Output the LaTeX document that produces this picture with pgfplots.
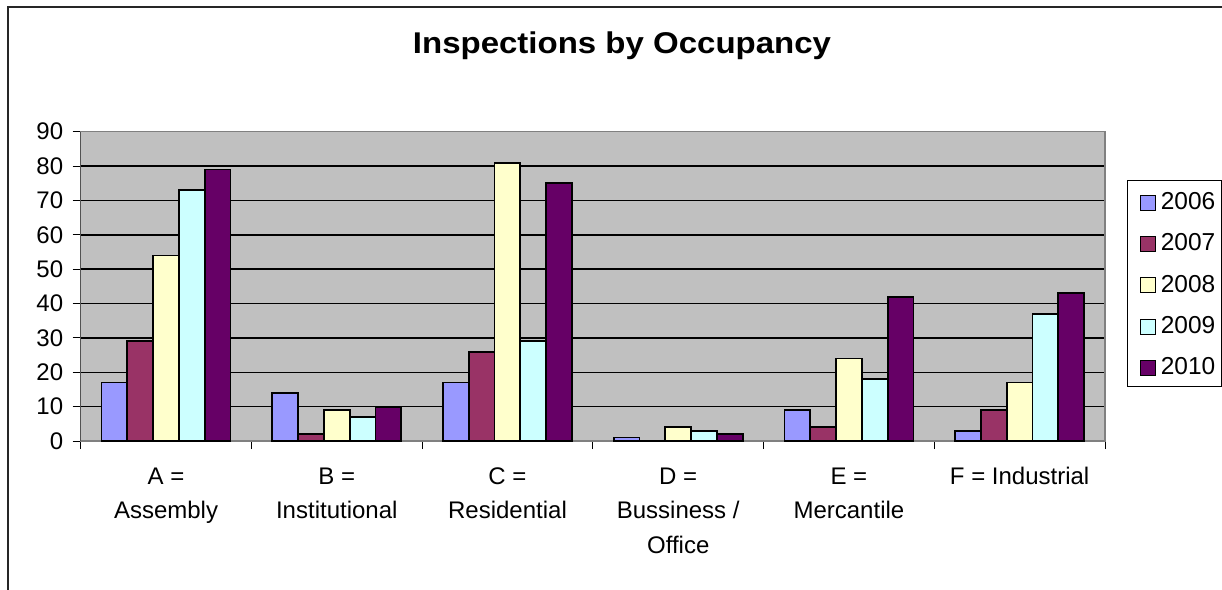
\documentclass[border=0pt]{standalone}
\usepackage{fontspec}
\setmainfont{Liberation Sans}
\usepackage{pgfplots}
\pgfplotsset{compat=1.18}
\definecolor{c06}{HTML}{9999FF}
\definecolor{c07}{HTML}{993366}
\definecolor{c08}{HTML}{FFFFCC}
\definecolor{c09}{HTML}{CCFFFF}
\definecolor{c10}{HTML}{660066}
\definecolor{bg}{HTML}{C0C0C0}
\pgfplotsset{ybar legend/.style={legend image code/.code={\path (0pt,0pt); \draw[##1,line width=1pt] (6pt,-9.5pt) rectangle (21pt,5.5pt);}}}
\begin{document}
\begin{tikzpicture}[x=1pt,y=1pt]
\useasboundingbox (0,0) rectangle (1222,589);
\draw[line width=1.2pt, black!85] (8,-5) -- (8,582) -- (1230,582);
\node[font=\bfseries\fontsize{30}{36}\selectfont, anchor=base] at (622,535) {\scalebox{1.1}[1]{Inspections by Occupancy}};
\begin{axis}[
  at={(80.7pt,148pt)}, anchor=south west,
  scale only axis, width=1024.3pt, height=309.3pt,
  xmin=-0.5, xmax=5.5, ymin=0, ymax=90,
  ybar=0pt, bar width=25.8pt,
  axis background/.style={fill=bg},
  axis line style={draw=gray, line width=1.2pt},
  ymajorgrids, grid style={black, line width=1.4pt},
  ytick={0,10,...,90},
  xtick={-0.5,0.5,...,5.5},
  xticklabels={,,,,,,,},
  extra x ticks={0,1,2,3,4,5},
  extra x tick labels={{A =\\Assembly},{B =\\Institutional},{C =\\Residential},{D =\\Bussiness /\\Office},{E =\\Mercantile},{F = Industrial}},
  extra x tick style={major tick length=0pt},
  tick align=outside, tick pos=left,
  major tick length=8pt,
  tick style={black, line width=1pt},
  xticklabel style={font=\fontsize{24}{34.5}\selectfont, align=center, anchor=north, yshift=-23pt},
  yticklabel style={font=\fontsize{24}{28}\selectfont, xshift=-6pt},
  /pgf/number format/assume math mode=true,
  legend style={at={(1.0215,0.8438)}, anchor=north west, draw=black, line width=0.8pt,
    font=\fontsize{24.5}{28}\selectfont, row sep=8pt, inner xsep=6pt, inner ysep=4pt,
    nodes={text height=17.2pt, text depth=0pt, text width=50pt, inner xsep=5pt, inner ysep=8pt}},
  legend cell align=left,
]
\addplot[fill=c06, draw=black, line width=1.8pt] coordinates {(0,17) (1,14) (2,17) (3,1) (4,9) (5,3)};
\addplot[fill=c07, draw=black, line width=1.8pt] coordinates {(0,29) (1,2) (2,26) (3,0) (4,4) (5,9)};
\addplot[fill=c08, draw=black, line width=1.8pt] coordinates {(0,54) (1,9) (2,81) (3,4) (4,24) (5,17)};
\addplot[fill=c09, draw=black, line width=1.8pt] coordinates {(0,73) (1,7) (2,29) (3,3) (4,18) (5,37)};
\addplot[fill=c10, draw=black, line width=1.8pt] coordinates {(0,79) (1,10) (2,75) (3,2) (4,42) (5,43)};
\legend{2006,2007,2008,2009,2010}
\draw[black, line width=1.2pt] (rel axis cs:0,0) -- (rel axis cs:0,1);
\end{axis}
\end{tikzpicture}
\end{document}
